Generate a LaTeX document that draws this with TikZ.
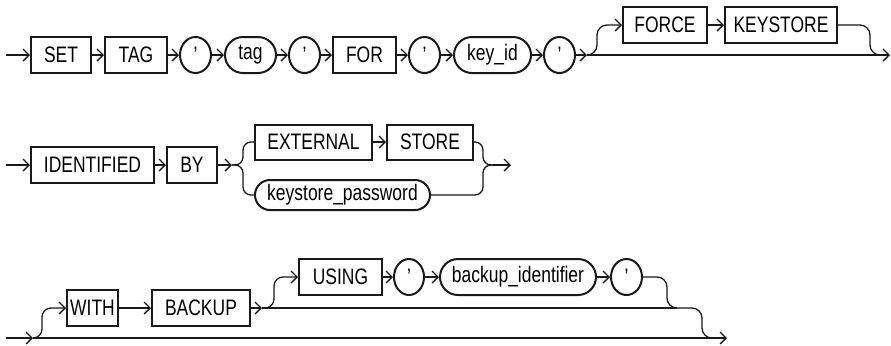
\documentclass[tikz,border=0pt]{standalone}
\usepackage{fontspec}
\setmainfont{Liberation Sans}[FakeStretch=0.78]
\usepackage{tikz}
\usetikzlibrary{arrows.meta, positioning, calc, shapes}
\usepackage{xcolor}
\definecolor{ink}{RGB}{25,25,25}

\begin{document}
\begin{tikzpicture}[x=0.5pt, y=-0.5pt,
  >={Straight Barb[length=3pt,width=6pt]},
  kw/.style={draw=ink, line width=1pt, minimum height=18pt, inner sep=0pt,
    font=\fontsize{11.2}{13}\selectfont},
  var/.style={kw, rounded corners=9pt},
  quote/.style={kw, ellipse, minimum width=15.5pt},
  rail/.style={draw=ink, line width=0.65pt, rounded corners=5pt}]
  \useasboundingbox (0,0) rectangle (891,345);
  % Row 1: SET TAG 'tag' FOR 'key_id'
  \coordinate (s1) at (6,55);
  \node[kw, minimum width=30pt] (set) at (61,55) {SET};
  \node[kw, minimum width=31pt] (tagkw) at (136,55) {TAG};
  \node[quote] (q1) at (195.5,55) {’};
  \node[var, minimum width=25.5pt] (tagvar) at (250.5,55) {tag};
  \node[quote] (q2) at (304.5,55) {’};
  \node[kw, minimum width=31.5pt] (for) at (364.5,55) {FOR};
  \node[quote] (q3) at (424.5,55) {’};
  \node[var, minimum width=38.5pt] (keyid) at (492.5,55) {key\_id};
  \node[quote] (q4) at (559.5,55) {’};
  \coordinate (b1) at (587,55);
  \node[kw, minimum width=42pt] (force) at (665,25) {FORCE};
  \node[kw, minimum width=56pt] (keystore) at (781,25) {KEYSTORE};
  \coordinate (m1) at (880,55);
  \coordinate (e1) at (890,55);
  \foreach \a/\b in {s1/set, set/tagkw, tagkw/q1, q1/tagvar, tagvar/q2,
      q2/for, for/q3, q3/keyid, keyid/q4, q4/b1, force/keystore}
    \draw[rail,->] (\a) -- (\b);
  \draw[rail,->] (b1) -- ++(10,0) |- (force.west);
  \draw[rail] (keystore.east) -| ($(m1)+(-10,0)$) -- (m1);
  \draw[rail,->] (b1) -- (e1);

  % Row 2: IDENTIFIED BY ...
  \coordinate (s2) at (6,165);
  \node[kw, minimum width=61.5pt] (ident) at (92.5,165) {IDENTIFIED};
  \node[kw, minimum width=25pt] (by) at (192,165) {BY};
  \coordinate (b2) at (232,165);
  \node[kw, minimum width=58.5pt, minimum height=17.5pt] (external) at (313.5,142) {EXTERNAL};
  \node[kw, minimum width=43pt, minimum height=17.5pt] (store) at (430,142) {STORE};
  \node[var, minimum width=87.5pt, minimum height=15pt, rounded corners=7.5pt] (kspwd) at (342.5,195) {keystore\_password};
  \coordinate (m2) at (493,165);
  \coordinate (e2) at (511,165);
  \foreach \a/\b in {s2/ident, ident/by, by/b2, external/store, m2/e2}
    \draw[rail,->] (\a) -- (\b);
  \draw[rail, rounded corners=4pt] (b2) -- ++(11,0) |- (external.west);
  \draw[rail, rounded corners=4pt] (b2) -- ++(11,0) |- (kspwd.west);
  \draw[rail, rounded corners=4pt] (store.east) -| ($(m2)+(-10,0)$) -- (m2);
  \draw[rail, rounded corners=4pt] (kspwd.east) -| ($(m2)+(-10,0)$) -- (m2);

  % Row 3: optional WITH BACKUP USING 'backup_identifier'
  \coordinate (s3) at (6,338);
  \coordinate (b3) at (33,338);
  \node[kw, minimum width=25.5pt] (with) at (92.5,308) {WITH};
  \node[kw, minimum width=49pt] (backup) at (201,308) {BACKUP};
  \coordinate (b4) at (262,308);
  \node[kw, minimum width=41.5pt] (using) at (340.5,277) {USING};
  \node[quote, minimum width=15pt] (q5) at (409,277) {’};
  \node[var, minimum width=78pt] (bkid) at (518,277) {backup\_identifier};
  \node[quote] (q6) at (626.5,277) {’};
  \coordinate (m4) at (677,308);
  \coordinate (m3) at (712,338);
  \coordinate (e3) at (727,338);
  \foreach \a/\b in {s3/b3, with/backup, backup/b4, using/q5, q5/bkid, bkid/q6, b3/e3}
    \draw[rail,->] (\a) -- (\b);
  \draw[rail,->, rounded corners=4.5pt] (b3) -- ++(9,0) |- (with.west);
  \draw[rail,->, rounded corners=4.5pt] (b4) -- ++(12,0) |- (using.west);
  \draw[rail] (b4) -- (m4);
  \draw[rail] (q6.east) -| ($(m4)+(-10,0)$) -- (m4);
  \draw[rail] (m4) -| ($(m3)+(-10,0)$) -- (m3);
\end{tikzpicture}
\end{document}
